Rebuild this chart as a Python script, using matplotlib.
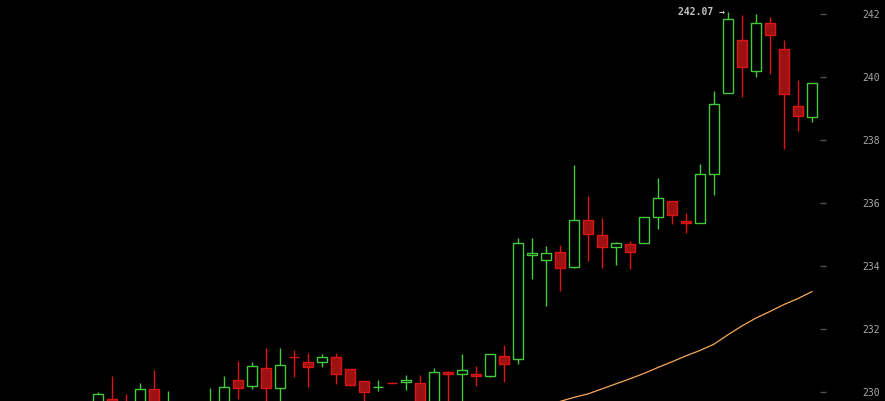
import numpy as np
import matplotlib
matplotlib.use('Agg')
import matplotlib.pyplot as plt

# candle data, one entry per candle
opens = [229.50, 229.78, 229.60, 229.55, 230.10, 229.40, 229.45, 229.55, 229.40, 229.65,
         230.38, 230.19, 230.76, 230.13, 231.12, 230.95, 230.95, 231.11, 230.73, 230.35,
         230.15, 230.30, 230.32, 230.29, 229.50, 230.63, 230.57, 230.57, 230.51, 231.14,
         231.05, 234.35, 234.19, 234.44, 233.97, 235.46, 234.98, 234.60, 234.70, 234.73,
         235.56, 236.06, 235.42, 235.37, 236.92, 239.49, 241.17, 240.20, 241.71, 240.89,
         239.10, 238.73]
highs = [230.00, 230.52, 229.95, 230.30, 230.71, 230.02, 229.65, 229.65, 230.13, 230.52,
         230.99, 230.95, 231.39, 231.39, 231.34, 231.25, 231.21, 231.25, 230.73, 230.35,
         230.38, 230.33, 230.54, 230.54, 230.77, 230.67, 231.21, 230.83, 231.21, 231.50,
         234.89, 234.89, 234.63, 234.67, 237.22, 236.23, 235.52, 234.76, 234.79, 235.56,
         236.79, 236.06, 235.68, 237.25, 239.56, 242.07, 241.98, 242.01, 241.91, 241.18,
         239.91, 239.81]
lows = [229.40, 229.45, 229.35, 229.45, 229.40, 229.30, 229.30, 229.35, 229.30, 229.55,
        229.77, 230.08, 229.60, 229.60, 230.49, 230.17, 230.78, 230.27, 230.22, 229.60,
        230.02, 230.28, 230.06, 229.40, 229.40, 229.50, 229.50, 230.18, 230.48, 230.33,
        230.89, 233.59, 232.72, 233.22, 233.94, 234.15, 233.94, 234.03, 233.90, 234.73,
        235.17, 235.33, 235.05, 235.37, 236.26, 239.49, 239.38, 240.01, 240.11, 237.73,
        238.30, 238.59]
closes = [229.94, 229.55, 229.45, 230.10, 229.50, 229.62, 229.55, 229.40, 229.65, 230.16,
          230.13, 230.83, 230.13, 230.86, 231.10, 230.78, 231.11, 230.57, 230.22, 230.00,
          230.17, 230.28, 230.38, 229.50, 230.63, 230.57, 230.70, 230.51, 231.21, 230.89,
          234.73, 234.41, 234.41, 233.94, 235.46, 235.02, 234.60, 234.73, 234.44, 235.56,
          236.16, 235.62, 235.38, 236.92, 239.14, 241.84, 240.34, 241.71, 241.33, 239.48,
          238.76, 239.81]
# moving average (only the part that is visible)
ma = [np.nan] * 31 + [229.40, 229.55, 229.70, 229.83, 229.94, 230.10, 230.26, 230.42, 230.59,
                      230.78, 230.96, 231.15, 231.32, 231.52, 231.82, 232.10, 232.35, 232.56,
                      232.78, 232.97, 233.19]
yticks = [230, 232, 234, 236, 238, 240, 242]

up_col = '#44c83c'
dn_col = '#dc1414'
dn_fill = '#9c1212'

fig = plt.figure(figsize=(8.85, 4.01), dpi=100, facecolor='black')
ax = fig.add_axes([0, 0, 1, 1], facecolor='black')

x = np.arange(len(opens))
o = np.array(opens); h = np.array(highs); l = np.array(lows); c = np.array(closes)
up = c >= o
top = np.maximum(o, c)
bot = np.minimum(o, c)
cols = np.where(up, up_col, dn_col)

# wicks
ax.vlines(x, top, h, colors=cols, lw=1.0, zorder=2)
ax.vlines(x, l, bot, colors=cols, lw=1.0, zorder=2)
# bodies
ax.bar(x[up], (top - bot)[up], bottom=bot[up], width=0.66, facecolor='black',
       edgecolor=up_col, lw=1.0, zorder=3)
ax.bar(x[~up], (top - bot)[~up], bottom=bot[~up], width=0.66, facecolor=dn_fill,
       edgecolor=dn_col, lw=1.0, zorder=3)

ax.plot(x, ma, color='#f6a95a', lw=0.9, zorder=4)

# label at highest high
imax = int(np.argmax(h))
ax.text(imax - 0.2, h[imax], '%.2f \u2192' % h[imax], ha='right', va='center',
        color='#c4c4c4', fontsize=7, fontweight='bold', family='DejaVu Sans Mono')

# pixel mapping: candle k centred at 98 + 14k px, 31.5 px per unit
px = lambda p: (p - 98) / 14.0
ax.set_xlim(px(0), px(885))
ax.set_ylim(242 - 387.0 / 31.5, 242 + 14.3 / 31.5)

ax.hlines(yticks, px(820), px(826), colors='#505050', lw=1.0)
ax.set_yticks(yticks)
ax.set_xticks([])
ax.yaxis.tick_right()
ax.tick_params(axis='y', length=0, pad=-3.6, labelcolor='#a8a8a8', labelsize=7)
for lab in ax.get_yticklabels():
    lab.set_horizontalalignment('right')
    lab.set_family('DejaVu Sans Mono')
for s in ax.spines.values():
    s.set_visible(False)

fig.savefig('out.png', dpi=100, facecolor='black')
